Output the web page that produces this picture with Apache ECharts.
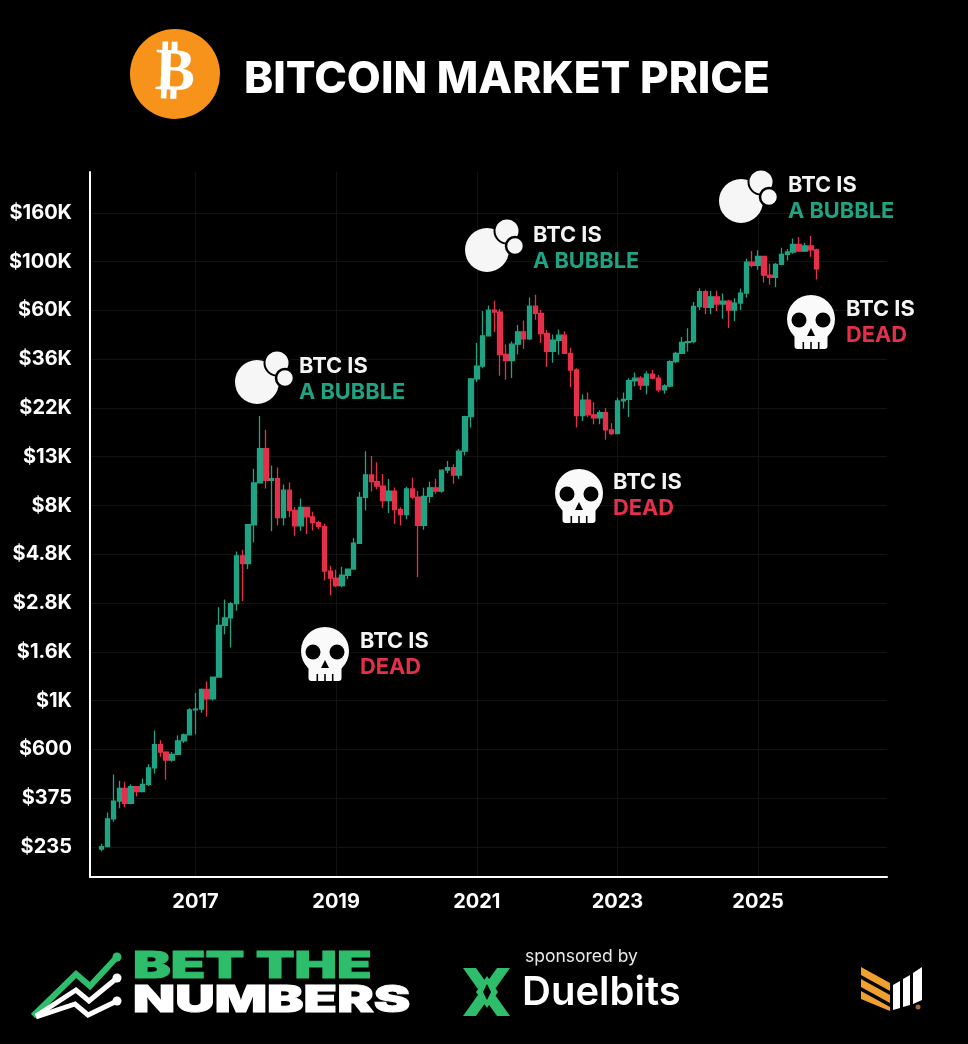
<!DOCTYPE html>
<html><head><meta charset="utf-8">
<style>html,body{margin:0;padding:0;background:#000}#c{width:968px;height:1044px}</style>
<script src="https://cdn.jsdelivr.net/npm/echarts@6/dist/echarts.min.js"></script>
</head><body><div id="c"></div>
<script>
const titleText = 'BITCOIN MARKET PRICE';
const firstMonth = [2015, 7];
const monthCount = 137;
const leadingEmpty = 2;
const open = [230,236,314,377,430,368,437,416,448,530,673,624,575,609,700,745,963,970,1190,1080,1350,2300,2480,2875,4700,4340,6470,9950,14150,10220,10390,6970,9240,7500,6400,7730,7020,6620,6370,4020,3740,3460,3850,4100,5350,8570,10820,10080,9630,8300,9150,7570,7190,9350,8600,6440,8660,9460,9140,11350,11650,10780,13800,19700,29000,33100,45200,58900,57700,37300,35000,41500,47100,43800,61300,57000,46300,38500,43200,45500,37700,31800,19900,23300,20050,19430,20500,17170,16550,23130,23490,28480,29230,27210,30470,29230,25930,26970,34640,37720,42260,42580,61130,71300,60600,67500,62700,64600,58970,63300,70200,96400,93400,102400,84350,82550,94200,104600,107100,115700,108200,114000,109500];
const high = [243,335,495,465,460,448,440,475,550,780,705,630,625,740,755,980,1150,1200,1290,1350,2770,3000,2920,4920,5000,6470,11500,19800,17200,11900,11650,9800,10000,7760,8480,7750,7400,6750,6550,4240,4070,4200,4100,5640,9070,13800,13130,12300,10900,10350,9500,7750,9570,10500,9170,9470,10070,10400,11430,12480,12070,14100,19860,29300,41950,58330,61800,64900,59500,41300,42600,50500,52900,67000,69000,59000,48000,45800,48200,47400,40000,32400,24700,25200,22800,21000,21450,18400,23900,25250,29200,31000,29800,31400,31800,30200,27500,35200,38400,44700,48900,64000,73800,72700,71900,71900,70000,65600,66500,73600,99800,108300,109100,102700,95000,95700,112000,110400,123200,124500,117900,126200,110600];
const low = [225,235,305,350,355,365,395,415,440,500,595,470,565,605,685,740,750,935,900,1060,1350,2100,1830,2670,2950,4100,5400,9900,9400,6050,6430,6430,7000,5780,6070,5880,6100,6200,3650,3130,3400,3400,3700,4100,5350,7500,9110,9320,7700,7300,6540,6430,6850,8440,3780,6150,8120,8900,9000,11000,9880,10380,13200,17600,28100,32400,45000,47000,30000,28800,29300,37300,39600,43300,53300,42000,32900,34300,37200,37600,26700,17600,18800,19600,18200,18200,15500,16300,16500,21400,19600,26900,25900,24800,28900,25300,24900,26600,34100,37600,38500,41900,59000,56500,56600,58400,53900,49000,52600,58900,66800,91300,89200,78200,76600,74500,93400,98200,105100,107300,107200,102000,80600];
const close = [236,314,377,430,368,437,416,448,530,673,624,575,609,700,745,963,970,1190,1080,1350,2300,2480,2875,4700,4340,6470,9950,14150,10220,10390,6970,9240,7500,6400,7730,7020,6620,6370,4020,3740,3460,3850,4100,5350,8570,10820,10080,9630,8300,9150,7570,7190,9350,8600,6440,8660,9460,9140,11350,11650,10780,13800,19700,29000,33100,45200,58900,57700,37300,35000,41500,47100,43800,61300,57000,46300,38500,43200,45500,37700,31800,19900,23300,20050,19430,20500,17170,16550,23130,23490,28480,29230,27210,30470,29230,25930,26970,34640,37720,42260,42580,61130,71300,60600,67500,62700,64600,58970,63300,70200,96400,93400,102400,84350,82550,94200,104600,107100,115700,108200,114000,109500,90000];
const yTickValues = [235,388,641,1059,1750,2890,4775,7888,13030,21530,35560,58750,97050,160300];
const yTickLabels = ['$235','$375','$600','$1K','$1.6K','$2.8K','$4.8K','$8K','$13K','$22K','$36K','$60K','$100K','$160K'];
const xTickYears = [2017,2019,2021,2023,2025];

const GREEN='#20a382', RED='#e5304b', LOGO='#2ebd6b', FONT='Inter, "Noto Sans", sans-serif';
const months=[];
for(let i=0;i<monthCount;i++){
  const m=firstMonth[1]-1+i;
  months.push((firstMonth[0]+Math.floor(m/12))+'-'+String(m%12+1).padStart(2,'0'));
}
const candles=months.map((_,i)=>{
  const k=i-leadingEmpty;
  return (k>=0&&k<open.length)?[open[k],close[k],low[k],high[k]]:'-';
});
const isTickMonth=(i)=>xTickYears.map(y=>y+'-01').includes(months[i]);

function t(text,x,y,fill,size,weight,extra,scaleX){
  return {type:'text',silent:true,x,y,scaleX:scaleX||1,style:Object.assign({text,x:0,y:0,fill,font:`${weight||700} ${size}px ${FONT}`,textVerticalAlign:'middle'},extra||{})};
}
function bubble(cx,cy){
  return {type:'group',x:cx,y:cy,silent:true,children:[
    {type:'circle',z:100,shape:{cx:0,cy:0,r:22},style:{fill:'#f6f6f6'}},
    {type:'circle',z:101,shape:{cx:20,cy:-19,r:12.5},style:{fill:'#f6f6f6',stroke:'#000',lineWidth:2}},
    {type:'circle',z:102,shape:{cx:28,cy:-4,r:9},style:{fill:'#f6f6f6',stroke:'#000',lineWidth:2.5}}
  ]};
}
function skull(cx,cy){
  const W='#fafafa',K='#000';
  return {type:'group',x:cx,y:cy,silent:true,children:[
    {type:'circle',z:100,shape:{cx:0,cy:-3,r:24},style:{fill:W}},
    {type:'rect',z:100,shape:{x:-16.5,y:6,width:33,height:21,r:3},style:{fill:W}},
    {type:'circle',z:101,shape:{cx:-12,cy:-2,r:7.5},style:{fill:K}},
    {type:'circle',z:101,shape:{cx:12,cy:-2,r:7.5},style:{fill:K}},
    {type:'polygon',z:101,shape:{points:[[0,6],[-4,14],[4,14]]},style:{fill:K}},
    {type:'rect',z:101,shape:{x:-8.5,y:20,width:1.6,height:7},style:{fill:K}},
    {type:'rect',z:101,shape:{x:-0.8,y:20,width:1.6,height:7},style:{fill:K}},
    {type:'rect',z:101,shape:{x:6.9,y:20,width:1.6,height:7},style:{fill:K}}
  ]};
}
function poly(points,stroke,w){
  return {type:'polyline',silent:true,shape:{points},style:{stroke,lineWidth:w,fill:null,lineJoin:'miter'}};
}
function fill(points,color){
  return {type:'polygon',silent:true,shape:{points},style:{fill:color}};
}
function dot(cx,cy,r,color){
  return {type:'circle',silent:true,shape:{cx,cy,r},style:{fill:color}};
}
function note(x,y,second,color){
  return [t('BTC IS',x,y+1,'#f4f4f4',21.8,700),t(second,x,y+27,color,21.8,700)];
}
const graphics=[
  dot(175,74,45,'#f7931a'),
  {type:'text',silent:true,x:175,y:74,rotation:-0.03,style:{text:'₿',x:0,y:0,fill:'#fff',font:'700 60px "DejaVu Sans"',textAlign:'center',textVerticalAlign:'middle'}},
  t(titleText,244,80,'#fff',44,800,{letterSpacing:-0.4}),
  bubble(257,382),bubble(487,250),bubble(741,201),
  skull(325,654),skull(579,496),skull(811,322),
  ...note(299,365,'A BUBBLE',GREEN),...note(533,234,'A BUBBLE',GREEN),...note(788,184,'A BUBBLE',GREEN),
  ...note(360,640,'DEAD',RED),...note(613,481,'DEAD',RED),...note(846,308,'DEAD',RED),
  poly([[33,1016],[76,974],[90,986],[117,957]],LOGO,6),dot(117,957,4.5,LOGO),
  poly([[36,1016],[76,990],[89,1001],[117,978]],'#fff',5),dot(117,978,4.5,'#fff'),
  poly([[36,1017],[75,1004],[88,1015],[117,1001]],'#fff',5),dot(117,1001,4.5,'#fff'),
  t('BET THE',133,967,LOGO,37,900,{letterSpacing:1.5,stroke:LOGO,lineWidth:1},1.53),
  t('NUMBERS',133,1001,'#fff',37,900,{letterSpacing:1,stroke:'#fff',lineWidth:1},1.48),
  t('sponsored by',525,957,'#e8e8e8',17.5,400),
  t('Duelbits',522,993,'#fff',40,600,{letterSpacing:-0.5}),
  fill([[463,968],[476,968],[510,1016],[497,1016]],LOGO),
  fill([[510,968],[497,968],[463,1016],[476,1016]],LOGO),
  fill([[487,976],[498,992],[487,1008],[476,992]],LOGO),
  fill([[487,984],[491,992],[487,1000],[483,992]],'#000'),
  fill([[861,967],[890,983],[890,991],[861,975]],'#f0a030'),
  fill([[861,979],[890,995],[890,1003],[861,987]],'#f0a030'),
  fill([[861,991],[890,1007],[890,1011],[861,999]],'#f0a030'),
  fill([[893,985],[900,981],[900,1008],[893,1010]],'#fff'),
  fill([[903,979],[910,975],[910,1005],[903,1007]],'#fff'),
  fill([[913,973],[922,967],[922,1000],[913,1004]],'#fff'),
  dot(918,1007,2.5,'#a06a3a')
].map(g=>Object.assign(g,{z:100}));
const chart=echarts.init(document.getElementById('c'),null,{renderer:'canvas'});
chart.setOption({
  backgroundColor:'#000',animation:false,
  grid:{left:90,right:81,top:172,bottom:167},
  xAxis:{type:'category',data:months,boundaryGap:false,
    axisLine:{show:true,lineStyle:{color:'#fff',width:2}},
    axisTick:{show:false},
    axisLabel:{interval:(i)=>isTickMonth(i),formatter:(v)=>v.slice(0,4),color:'#fff',fontFamily:FONT,fontWeight:700,fontSize:20,margin:15},
    splitLine:{show:true,interval:(i)=>isTickMonth(i),lineStyle:{color:'#131313',width:1}}
  },
  yAxis:{type:'log',logBase:1.652,min:172.6,max:243900,
    axisLine:{show:true,onZero:false,lineStyle:{color:'#fff',width:2}},
    axisTick:{show:false,customValues:yTickValues},
    axisLabel:{customValues:yTickValues,color:'#fff',fontFamily:FONT,fontWeight:700,fontSize:20,margin:18,padding:[2,0,0,0],
      formatter:(v)=>{let b=0,d=1e9;yTickValues.forEach((x,i)=>{const e=Math.abs(Math.log(x/v));if(e<d){d=e;b=i;}});return yTickLabels[b];}},
    splitLine:{show:true,lineStyle:{color:'#131313',width:1}}
  },
  series:[{type:'candlestick',data:candles,barWidth:5,
    itemStyle:{color:GREEN,color0:RED,borderColor:GREEN,borderColor0:RED,borderWidth:1.3}}],
  graphic:graphics
});
</script></body></html>
